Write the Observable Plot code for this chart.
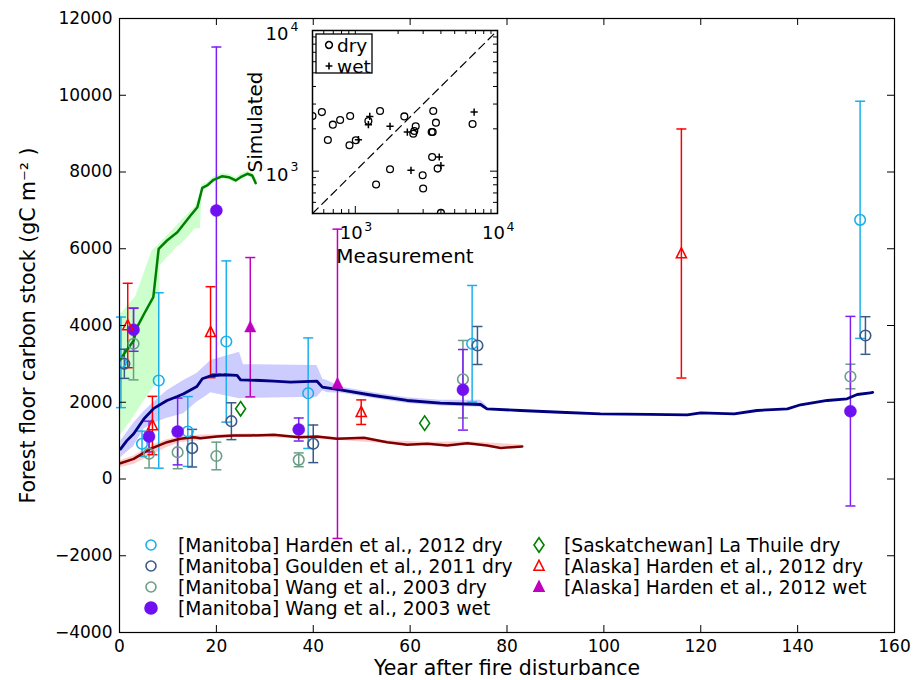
<!DOCTYPE html>
<html><head><meta charset="utf-8">
<script src="https://cdn.jsdelivr.net/npm/d3@7"></script>
<script src="https://cdn.jsdelivr.net/npm/@observablehq/plot@0.6"></script>
<style>
body{margin:0;background:#fff;font-family:"DejaVu Sans",sans-serif;}
#wrap{position:relative;width:916px;height:680px;overflow:hidden;}
#wrap svg{position:absolute;overflow:visible;}
</style></head><body><div id="wrap"></div>
<script>
// ---------- data ----------
const xTicks = [0, 20, 40, 60, 80, 100, 120, 140, 160];
const yTicks = [-4000, -2000, 0, 2000, 4000, 6000, 8000, 10000, 12000];
// [year, stock, error]
const hardenManitobaDry = [[0.3,3040,1180],[4.65,917,330],[8.1,2567,2286],[14.1,1238,910],[22.05,3583,2100],[38.95,2236,1440],[72.8,3523,1520],[152.9,6754,3090]];
const gouldenManitobaDry = [[1.0,3002,380],[15.0,803,490],[23.1,1506,480],[40.0,917,490],[73.9,3479,495],[154.0,3739,490]];
const wangManitobaDry = [[2.9,3523,940],[6.1,657,370],[12.0,698,430],[20.0,600,360],[37.0,500,180],[70.9,2600,1010],[150.9,2671,320]];
const wangManitobaWet = [[2.9,3888,560],[6.1,1107,400],[12.0,1238,870],[20.0,6997,4260],[37.0,1290,300],[70.9,2324,1050],[150.9,1767,2470]];
const laThuileSaskDry = [[25.0,1829],[63.0,1455]];
const hardenAlaskaDry = [[1.7,4000,1100],[6.8,1394,760],[18.8,3826,1185],[49.9,1741,320],[116.0,5876,3245]];
const hardenAlaskaWet = [[27.0,3956,1815],[45.0,2481,4030]];
// model curves [year, stock]
const greenModel = [[0.2,3130],[2.93,3609],[3.64,3956],[5.06,4300],[6.98,4737],[8.09,5999],[9.81,6215],[11.94,6431],[14.67,6867],[16.08,7083],[17.1,7588],[18.1,7649],[19.42,7797],[21.24,7891],[22.56,7865],[23.98,7779],[24.99,7865],[26.4,7953],[27.41,7909],[28.12,7708]];
const navyModel = [[0.2,780],[1.52,1000],[2.93,1180],[5.06,1570],[7.08,1840],[9.81,2046],[11.94,2150],[13.25,2220],[15.98,2410],[17.1,2611],[18.82,2690],[21.55,2716],[24.28,2700],[24.99,2585],[29.13,2567],[31.87,2548],[35.3,2522],[40.77,2548],[41.88,2393],[45.62,2324],[52.5,2176],[59.38,2046],[66.26,1975],[74.55,1941],[75.87,1829],[82.75,1785],[91.0,1740],[99.3,1699],[109.3,1685],[117.2,1673],[120.0,1725],[126.9,1699],[131.6,1785],[137.9,1829],[140.6,1934],[146.1,2046],[150.2,2090],[152.3,2202],[155.0,2246],[155.5,2255]];
const redModel = [[0.2,412],[2.93,526],[6.37,787],[9.81,959],[12.54,1048],[15.38,1090],[16.69,1063],[20.13,1107],[23.57,1133],[27.01,1133],[31.87,1151],[37.02,1090],[40.77,1107],[44.91,1048],[50.48,1073],[55.23,959],[59.38,891],[63.53,917],[67.68,873],[71.82,933],[75.87,873],[78.7,810],[83.15,850]];
// model ranges [year, low, high]
const greenBand = [[0.2,1150,4300],[0.9,1250,4391],[3.34,1700,4750],[6.78,2350,5955],[8.09,2567,6100],[8.4,5560,6150],[11.94,6050,6606],[12.54,6085,6700],[15.68,6519,7100],[16.69,6519,7450],[17.1,7500,7680],[18.1,7580,7720],[19.42,7730,7870],[21.24,7820,7960],[22.56,7800,7940],[23.98,7710,7850],[24.99,7800,7940],[26.4,7880,8020],[27.41,7840,7980],[28.4,7650,7790]];
const navyBand = [[0.3,560,1000],[2.93,850,1450],[5.06,1300,1760],[7.08,1450,2000],[9.81,1580,2300],[13.25,1700,2567],[15.98,2000,2750],[18.1,2176,3000],[18.82,2250,3088],[24.78,2090,3304],[25.6,2100,2980],[40.77,2132,2958],[41.98,2300,2600],[42.9,2250,2567],[45.62,2240,2400],[52.5,2100,2250],[59.38,1970,2120],[66.26,1900,2050],[74.55,1870,2050],[75.87,1780,1900]];
const redBand = [[0.2,300,480],[2.93,380,600],[6.37,600,860],[9.81,820,1020],[12.54,950,1100],[16.19,1000,1140],[20.13,1060,1150],[27.01,1090,1180],[37.02,1050,1130],[44.91,1010,1090],[55.23,920,1000],[63.53,880,960],[71.82,895,970],[83.15,815,885]];
// inset: [measurement, simulated]
const insetDomain = [500, 10000];
const insetDry = [[500,2466],[582,2630],[641,1665],[695,2142],[782,2309],[910,1527],[920,2466],[1008,1657],[1236,2270],[1400,803],[1493,2674],[1755,1031],[2212,2450],[2557,1848],[2600,1930],[2659,2083],[2976,935],[3000,752],[3443,1897],[3500,1900],[3470,1261],[3533,2674],[3690,2212],[3793,1043],[4000,505],[6677,2162]];
const insetWet = [[1052,1675],[1264,2450],[1236,2142],[1755,2083],[2322,1897],[2464,1014],[3894,1261],[4000,1095],[6850,2630]];
const insetMajor = [1000, 10000];
const insetMinor = [600,700,800,900,2000,3000,4000,5000,6000,7000,8000,9000];

const legendItems = [
  {label:"[Manitoba] Harden et al., 2012 dry", col:0, row:0, sym:"circle", color:"#1ab0ec", filled:false},
  {label:"[Manitoba] Goulden et al., 2011 dry", col:0, row:1, sym:"circle", color:"#3a5a8a", filled:false},
  {label:"[Manitoba] Wang et al., 2003 dry", col:0, row:2, sym:"circle", color:"#6b9e86", filled:false},
  {label:"[Manitoba] Wang et al., 2003 wet", col:0, row:3, sym:"circle", color:"#7010f0", filled:true},
  {label:"[Saskatchewan] La Thuile dry", col:1, row:0, sym:"diamond", color:"#008000", filled:false},
  {label:"[Alaska] Harden et al., 2012 dry", col:1, row:1, sym:"tri", color:"#ff0000", filled:false},
  {label:"[Alaska] Harden et al., 2012 wet", col:1, row:2, sym:"tri", color:"#bf00bf", filled:true}
];

// ---------- symbols ----------
const R = s => Math.sqrt(s / Math.PI);
const capSym = {draw(c, s){const r=R(s); c.moveTo(-r,0); c.lineTo(r,0);}};
const diamondSym = {draw(c, s){const r=R(s); c.moveTo(0,-1.45*r); c.lineTo(r,0); c.lineTo(0,1.45*r); c.lineTo(-r,0); c.closePath();}};
const triSym = {draw(c, s){const r=R(s); c.moveTo(0,-1.15*r); c.lineTo(r,0.85*r); c.lineTo(-r,0.85*r); c.closePath();}};
const plusSym = {draw(c, s){const r=R(s); c.moveTo(-r,0); c.lineTo(r,0); c.moveTo(0,-r); c.lineTo(0,r);}};
const circSym = {draw(c, s){const r=R(s); c.moveTo(r,0); c.arc(0,0,r,0,2*Math.PI); c.closePath();}};

// ---------- main chart ----------
const W = 916, H = 680, mL = 119, mR = 22, mT = 18, mB = 48;
const fh = H - mT - mB, fw = W - mL - mR;
const fmt = d => d < 0 ? "\u2212" + Math.abs(d) : String(d);

function errorbars(data, color){
  return [
    Plot.ruleX(data, {x: d=>d[0], y1: d=>d[1]-d[2], y2: d=>d[1]+d[2], stroke: color, strokeWidth: 1.5}),
    Plot.dot(data, {x: d=>d[0], y: d=>d[1]+d[2], symbol: capSym, r: 5, fill: "none", stroke: color, strokeWidth: 1.5}),
    Plot.dot(data, {x: d=>d[0], y: d=>d[1]-d[2], symbol: capSym, r: 5, fill: "none", stroke: color, strokeWidth: 1.5})
  ];
}
function band(data, color){
  return Plot.areaY(data, {x: d=>d[0], y1: d=>d[1], y2: d=>d[2], fill: color, fillOpacity: 0.2});
}
function curve(data, color, w){
  return Plot.line(data, {x: d=>d[0], y: d=>d[1], stroke: color, strokeWidth: w});
}

const main = Plot.plot({
  width: W, height: H,
  marginLeft: mL, marginRight: mR, marginTop: mT, marginBottom: mB,
  style: {fontFamily: "DejaVu Sans", fontSize: "17px", color: "black", background: "transparent", overflow: "visible"},
  x: {domain: [0, 160]},
  y: {domain: [-4000, 12000]},
  marks: [
    band(greenBand, "#00ff00"),
    band(navyBand, "#0000ff"),
    band(redBand, "#ff0000"),
    ...errorbars(hardenManitobaDry, "#1ab0ec"),
    ...errorbars(gouldenManitobaDry, "#3a5a8a"),
    ...errorbars(wangManitobaDry, "#6b9e86"),
    ...errorbars(wangManitobaWet, "#7a20f0"),
    ...errorbars(hardenAlaskaDry, "#ff0000"),
    ...errorbars(hardenAlaskaWet, "#bf00bf"),
    curve(greenModel, "#008000", 2.5),
    curve(navyModel, "#000080", 2.8),
    curve(redModel, "#800000", 2.5),
    Plot.dot(hardenManitobaDry, {x: d=>d[0], y: d=>d[1], r: 5.3, fill: "none", stroke: "#1ab0ec", strokeWidth: 1.6, clip: true}),
    Plot.dot(gouldenManitobaDry, {x: d=>d[0], y: d=>d[1], r: 5.3, fill: "none", stroke: "#3a5a8a", strokeWidth: 1.6, clip: true}),
    Plot.dot(wangManitobaDry, {x: d=>d[0], y: d=>d[1], r: 5.3, fill: "none", stroke: "#6b9e86", strokeWidth: 1.6, clip: true}),
    Plot.dot(wangManitobaWet, {x: d=>d[0], y: d=>d[1], r: 6, fill: "#7010f0", stroke: "#7010f0", strokeWidth: 0.5, clip: true}),
    Plot.dot(laThuileSaskDry, {x: d=>d[0], y: d=>d[1], symbol: diamondSym, r: 5, fill: "none", stroke: "#008000", strokeWidth: 1.6}),
    Plot.dot(hardenAlaskaDry, {x: d=>d[0], y: d=>d[1], symbol: triSym, r: 5, fill: "none", stroke: "#ff0000", strokeWidth: 1.6, clip: true}),
    Plot.dot(hardenAlaskaWet, {x: d=>d[0], y: d=>d[1], symbol: triSym, r: 5.6, fill: "#bf00bf", stroke: "#bf00bf", strokeWidth: 0.5}),
    // inward ticks on all sides
    Plot.tickX(xTicks, {x: d=>d, insetTop: fh - 7, stroke: "black", strokeWidth: 1}),
    Plot.tickX(xTicks, {x: d=>d, insetBottom: fh - 7, stroke: "black", strokeWidth: 1}),
    Plot.tickY(yTicks, {y: d=>d, insetRight: fw - 7, stroke: "black", strokeWidth: 1}),
    Plot.tickY(yTicks, {y: d=>d, insetLeft: fw - 7, stroke: "black", strokeWidth: 1}),
    Plot.axisX({ticks: xTicks, tickSize: 0, tickPadding: 7, tickFormat: fmt, label: null, fontSize: 17}),
    Plot.axisY({ticks: yTicks, tickSize: 0, tickPadding: 7, tickFormat: fmt, label: null, fontSize: 17}),
    Plot.text(["Year after fire disturbance"], {frameAnchor: "bottom", lineAnchor: "middle", textAnchor: "middle", dy: 36, fontSize: 20.5, text: d=>d}),
    Plot.text(["Forest floor carbon stock (gC m\u207B\u00B2 )"], {frameAnchor: "left", textAnchor: "middle", lineAnchor: "middle", dx: -91, rotate: -90, fontSize: 20.5, text: d=>d}),
    Plot.frame({stroke: "black", strokeWidth: 1.2})
  ]
});
main.style.left = "0px"; main.style.top = "0px";
document.getElementById("wrap").appendChild(main);

// ---------- inset chart ----------
const iL = 70, iR = 5, iT = 5, iB = 52, ifw = 185, ifh = 183;
const inset = Plot.plot({
  width: iL + ifw + iR, height: iT + ifh + iB,
  marginLeft: iL, marginRight: iR, marginTop: iT, marginBottom: iB,
  style: {fontFamily: "DejaVu Sans", fontSize: "17px", color: "black", background: "transparent", overflow: "visible"},
  x: {type: "log", domain: insetDomain, axis: null},
  y: {type: "log", domain: insetDomain, axis: null},
  marks: [
    Plot.frame({fill: "white", stroke: "none"}),
    Plot.line(insetDomain.map(v => [v, v]), {x: d=>d[0], y: d=>d[1], stroke: "black", strokeWidth: 1.2, strokeDasharray: "8,5"}),
    Plot.dot(insetDry, {x: d=>d[0], y: d=>d[1], r: 3.4, fill: "none", stroke: "black", strokeWidth: 1.3, clip: true}),
    Plot.dot(insetWet, {x: d=>d[0], y: d=>d[1], symbol: plusSym, r: 3.6, fill: "none", stroke: "black", strokeWidth: 1.5}),
    Plot.tickX(insetMajor, {x: d=>d, insetTop: ifh - 7, stroke: "black"}),
    Plot.tickX(insetMajor, {x: d=>d, insetBottom: ifh - 7, stroke: "black"}),
    Plot.tickY(insetMajor, {y: d=>d, insetRight: ifw - 7, stroke: "black"}),
    Plot.tickY(insetMajor, {y: d=>d, insetLeft: ifw - 7, stroke: "black"}),
    Plot.tickX(insetMinor, {x: d=>d, insetTop: ifh - 4, stroke: "black"}),
    Plot.tickX(insetMinor, {x: d=>d, insetBottom: ifh - 4, stroke: "black"}),
    Plot.tickY(insetMinor, {y: d=>d, insetRight: ifw - 4, stroke: "black"}),
    Plot.tickY(insetMinor, {y: d=>d, insetLeft: ifw - 4, stroke: "black"}),
    // tick labels 10^n
    Plot.text(insetMajor, {x: d=>d, frameAnchor: "bottom", lineAnchor: "middle", textAnchor: "middle", text: () => "10", dx: -4, dy: 20, fontSize: 18}),
    Plot.text(insetMajor, {x: d=>d, frameAnchor: "bottom", lineAnchor: "middle", textAnchor: "middle", text: d => String(Math.round(Math.log10(d))), dx: 13, dy: 13, fontSize: 12.5}),
    Plot.text(insetMajor, {y: d=>d, frameAnchor: "left", lineAnchor: "middle", text: () => "10", textAnchor: "end", dx: -24, dy: 4, fontSize: 18}),
    Plot.text(insetMajor, {y: d=>d, frameAnchor: "left", lineAnchor: "middle", text: d => String(Math.round(Math.log10(d))), textAnchor: "end", dx: -14, dy: -4, fontSize: 12.5}),
    Plot.text(["Measurement"], {frameAnchor: "bottom", lineAnchor: "middle", textAnchor: "middle", dy: 43, fontSize: 20, text: d=>d}),
    Plot.text(["Simulated"], {frameAnchor: "left", lineAnchor: "middle", textAnchor: "middle", dx: -57, rotate: -90, fontSize: 20, text: d=>d}),
    Plot.frame({stroke: "black", strokeWidth: 1.5})
  ]
});
inset.style.left = (312 - iL) + "px"; inset.style.top = (30 - iT) + "px";
document.getElementById("wrap").appendChild(inset);

// ---------- legends ----------
const leg = d3.select("#wrap").append("svg")
  .attr("width", W).attr("height", H).style("left", "0px").style("top", "0px")
  .attr("font-family", "DejaVu Sans");
const symFor = {circle: circSym, diamond: diamondSym, tri: triSym};
const colX = [[151, 178], [539, 564]];
const rowY = [545, 566, 587, 608];
legendItems.forEach(it => {
  const cx = colX[it.col][0], tx = colX[it.col][1], cy = rowY[it.row];
  const r = it.sym === "circle" ? (it.filled ? 6 : 5) : 5;
  leg.append("path")
    .attr("d", d3.symbol(symFor[it.sym], Math.PI * r * r)())
    .attr("transform", `translate(${cx},${cy})`)
    .attr("fill", it.filled ? it.color : "none")
    .attr("stroke", it.color).attr("stroke-width", 1.6);
  leg.append("text").attr("x", tx).attr("y", cy).attr("dy", "0.36em")
    .attr("font-size", 18.7).attr("fill", "black").text(it.label);
});
// inset legend
leg.append("rect").attr("x", 316).attr("y", 34).attr("width", 56).attr("height", 39)
  .attr("fill", "white").attr("stroke", "black").attr("stroke-width", 1.3);
leg.append("path").attr("d", d3.symbol(circSym, Math.PI * 3.4 * 3.4)())
  .attr("transform", "translate(329,45)").attr("fill", "none").attr("stroke", "black").attr("stroke-width", 1.5);
leg.append("path").attr("d", d3.symbol(plusSym, Math.PI * 3.4 * 3.4)())
  .attr("transform", "translate(329,66)").attr("fill", "none").attr("stroke", "black").attr("stroke-width", 1.6);
leg.append("text").attr("x", 337).attr("y", 45).attr("dy", "0.36em").attr("font-size", 18.5).text("dry");
leg.append("text").attr("x", 337).attr("y", 66).attr("dy", "0.36em").attr("font-size", 18.5).text("wet");
</script>
</body></html>
